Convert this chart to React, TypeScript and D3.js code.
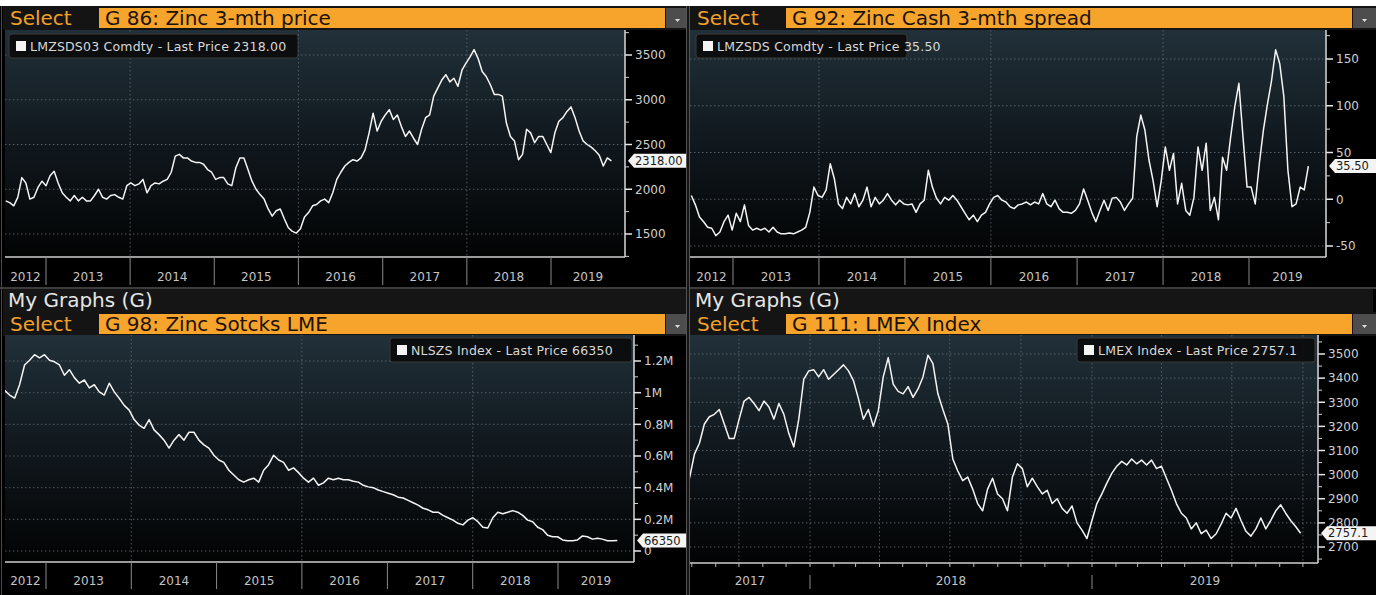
import React from 'react';
import * as d3 from 'd3';

const W = 1376;
const H = 595;
const FONT = '"DejaVu Sans", Verdana, sans-serif';

// G 86: Zinc 3-mth price (USD/t), Jul 2012 - Sep 2019
const zincPrice = [
  1870, 1850, 1815, 1910, 2130, 2070, 1890, 1910, 2020, 2090,
  2040, 2150, 2200, 2070, 1960, 1910, 1870, 1930, 1870, 1910,
  1870, 1870, 1930, 2000, 1910, 1890, 1930, 1940, 1910, 1890,
  2040, 2070, 2040, 2060, 2110, 1960, 2040, 2070, 2060, 2090,
  2110, 2190, 2370, 2390, 2350, 2350, 2315, 2300, 2300, 2280,
  2220, 2190, 2110, 2130, 2130, 2060, 2040, 2240, 2350, 2350,
  2220, 2090, 2000, 1940, 1890, 1780, 1700, 1760, 1780, 1670,
  1570, 1530, 1510, 1560, 1690, 1740, 1815, 1830, 1870, 1890,
  1850, 1960, 2110, 2190, 2260, 2300, 2330, 2315, 2350, 2440,
  2630, 2850, 2650, 2760, 2830, 2890, 2780, 2830, 2700, 2590,
  2650, 2570, 2500, 2670, 2800, 2830, 3040, 3130, 3220, 3280,
  3200, 3240, 3150, 3330, 3410, 3480, 3560, 3460, 3315, 3260,
  3170, 3060, 3060, 3040, 2740, 2590, 2540, 2330, 2390, 2670,
  2630, 2520, 2590, 2590, 2500, 2410, 2630, 2760, 2800, 2870,
  2920, 2800, 2650, 2540, 2500, 2470, 2430, 2380, 2260, 2350,
  2318.0,
];

// G 92: Zinc cash / 3-mth spread (USD/t)
const zincSpread = [
  4, -6, -19, -24, -30, -31, -39, -35, -24, -17,
  -33, -15, -24, -6, -28, -33, -31, -33, -31, -35,
  -30, -35, -37, -37, -36, -37, -35, -33, -30, -14,
  13, 4, 2, 10, 38, 22, -5, -10, 2, -5,
  6, -8, -1, 13, -8, 2, -5, -1, 6, -1,
  -6, -1, -5, -6, -5, -14, -5, -1, 31, 13,
  1, -5, 2, -1, 4, -1, -8, -15, -22, -17,
  -24, -17, -14, -5, 2, 4, -1, -3, -8, -10,
  -6, -5, -3, -6, -3, -5, 6, -5, -8, -1,
  -10, -14, -14, -15, -12, -5, 11, -1, -14, -24,
  -12, -1, -12, 1, 2, -3, -12, -5, 1, 67,
  90, 74, 42, 20, -8, 20, 56, 31, 49, -5,
  17, -12, -17, 2, 56, 31, 60, -12, 2, -22,
  45, 31, 67, 99, 124, 67, 13, 13, -5, 38,
  74, 102, 127, 160, 145, 110, 31, -8, -5, 13,
  10, 35.5,
];

// G 98: Zinc stocks LME (thousand tonnes)
const zincStocks = [
  1015, 985, 965, 1050, 1175, 1205, 1240, 1220, 1240, 1205,
  1195, 1175, 1110, 1145, 1095, 1060, 1080, 1030, 1050, 1005,
  985, 1060, 1005, 965, 920, 890, 830, 795, 775, 830,
  765, 735, 700, 650, 700, 735, 700, 750, 750, 700,
  670, 650, 605, 575, 560, 510, 480, 450, 435, 450,
  460, 435, 510, 545, 605, 575, 560, 510, 525, 495,
  460, 435, 460, 415, 430, 460, 450, 460, 450, 450,
  440, 435, 415, 405, 400, 385, 375, 365, 355, 340,
  335, 320, 305, 290, 270, 260, 245, 245, 225, 210,
  195, 175, 165, 195, 210, 185, 150, 145, 210, 245,
  235, 245, 255, 245, 225, 195, 185, 150, 135, 100,
  90, 90, 70, 65, 65, 70, 95, 90, 75, 80,
  75, 65, 65, 66.35,
];

// G 111: LMEX Index
const lmexIndex = [
  2985, 3085, 3130, 3210, 3240, 3250, 3270, 3210, 3150, 3150,
  3230, 3305, 3320, 3295, 3265, 3305, 3280, 3230, 3295, 3250,
  3170, 3115, 3230, 3395, 3430, 3435, 3405, 3435, 3395, 3415,
  3435, 3455, 3430, 3390, 3315, 3230, 3270, 3200, 3265, 3405,
  3485, 3375, 3345, 3335, 3365, 3320, 3355, 3405, 3495, 3460,
  3335, 3270, 3210, 3065, 3015, 2975, 2990, 2940, 2880, 2850,
  2940, 2985, 2920, 2900, 2850, 2990, 3045, 3025, 2950, 2985,
  2950, 2920, 2935, 2880, 2900, 2860, 2840, 2870, 2800, 2770,
  2735, 2810, 2880, 2920, 2965, 3005, 3035, 3055, 3040, 3065,
  3045, 3060, 3040, 3060, 3025, 3035, 2985, 2935, 2880, 2840,
  2820, 2775, 2800, 2755, 2770, 2735, 2755, 2795, 2840, 2820,
  2860, 2810, 2765, 2745, 2775, 2820, 2775, 2810, 2850, 2875,
  2840, 2810, 2785, 2757.1,
];

const longYears = [2012, 2013, 2014, 2015, 2016, 2017, 2018, 2019];
const shortYears = [2017, 2018, 2019];

const priceTicks = [1500, 2000, 2500, 3000, 3500];
const spreadTicks = [-50, 0, 50, 100, 150];
const stockTicks = [0, 200, 400, 600, 800, 1000, 1200];
const lmexTicks = [2700, 2800, 2900, 3000, 3100, 3200, 3300, 3400, 3500];

const d = (s: string) => new Date(s + 'T00:00:00');

type PanelDef = {
  id: string;
  title: string;
  ticker: string;
  myGraphs: boolean;
  values: number[];
  start: Date;
  end: Date;
  tagText: string;
  yTicks: number[];
  yMinorStep: number;
  yFmt: (v: number) => string;
  yDom: [number, number];
  yRange: [number, number];
  xDom: [Date, Date];
  xRange: [number, number];
  years: number[];
  monthly: boolean;
  // layout
  colX: number;
  headY: number;
  plot: { x0: number; x1: number; y0: number; y1: number };
  zoneBottom: number;
  yearBase: number;
  tagX1: number;
  legend: { x: number; y: number; w: number };
};

const panels: PanelDef[] = [
  {
    id: 'p86', title: 'G 86: Zinc 3-mth price', ticker: 'LMZSDS03 Comdty', myGraphs: false,
    values: zincPrice, start: d('2012-07-10'), end: d('2019-09-20'), tagText: '2318.00',
    yTicks: priceTicks, yMinorStep: 250, yFmt: (v) => String(v),
    yDom: [1500, 3500], yRange: [234, 55],
    xDom: [d('2013-01-01'), d('2019-01-01')], xRange: [46, 551],
    years: longYears, monthly: false,
    colX: 3, headY: 6, plot: { x0: 5, x1: 625, y0: 30, y1: 257 }, zoneBottom: 287, yearBase: 281,
    tagX1: 686, legend: { x: 9, y: 34, w: 289 },
  },
  {
    id: 'p92', title: 'G 92: Zinc Cash 3-mth spread', ticker: 'LMZSDS Comdty', myGraphs: false,
    values: zincSpread, start: d('2012-07-08'), end: d('2019-09-10'), tagText: '35.50',
    yTicks: spreadTicks, yMinorStep: 25, yFmt: (v) => String(v),
    yDom: [-50, 150], yRange: [246, 59],
    xDom: [d('2013-01-01'), d('2019-01-01')], xRange: [733, 1249],
    years: longYears, monthly: false,
    colX: 690, headY: 6, plot: { x0: 690, x1: 1326, y0: 30, y1: 257 }, zoneBottom: 287, yearBase: 281,
    tagX1: 1380, legend: { x: 696, y: 34, w: 211 },
  },
  {
    id: 'p98', title: 'G 98: Zinc Sotcks LME', ticker: 'NLSZS Index', myGraphs: true,
    values: zincStocks, start: d('2012-07-08'), end: d('2019-09-12'), tagText: '66350',
    yTicks: stockTicks, yMinorStep: 100, yFmt: (v) => (v === 0 ? '0' : `${v / 1000}M`),
    yDom: [0, 1200], yRange: [551, 361],
    xDom: [d('2013-01-01'), d('2019-01-01')], xRange: [46, 558],
    years: longYears, monthly: false,
    colX: 3, headY: 289, plot: { x0: 5, x1: 634, y0: 335, y1: 562 }, zoneBottom: 591, yearBase: 585,
    tagX1: 686, legend: { x: 390, y: 338, w: 242 },
  },
  {
    id: 'p111', title: 'G 111: LMEX Index', ticker: 'LMEX Index', myGraphs: true,
    values: lmexIndex, start: d('2017-07-29'), end: d('2019-09-28'), tagText: '2757.1',
    yTicks: lmexTicks, yMinorStep: 50, yFmt: (v) => String(v),
    yDom: [2700, 3500], yRange: [547, 354],
    xDom: [d('2018-01-01'), d('2019-01-01')], xRange: [810, 1092],
    years: shortYears, monthly: true,
    colX: 690, headY: 289, plot: { x0: 690, x1: 1318, y0: 335, y1: 563 }, zoneBottom: 591, yearBase: 585,
    tagX1: 1380, legend: { x: 1077, y: 338, w: 238 },
  },
];

function Header({ p }: { p: PanelDef }) {
  const x0 = p.colX;
  let y = p.headY;
  const parts: React.ReactNode[] = [];
  if (p.myGraphs) {
    parts.push(
      <g key="mg">
        <rect x={x0} y={y} width={683} height={23} fill="#151515" />
        <text x={x0 + 5} y={y + 18} fontSize={20} fill="#e6e6e6">My Graphs (G)</text>
      </g>
    );
    y += 23;
  }
  parts.push(
    <g key="sel">
      <rect x={x0} y={y} width={686} height={24} fill="#141414" />
      <text x={x0 + 7} y={y + 19} fontSize={20} fill="#f2a02a">Select</text>
      <rect x={x0 + 96} y={y + 2} width={566} height={20} fill="#f7a42c" />
      <text x={x0 + 102} y={y + 19} fontSize={20} fill="#1c1306">{p.title}</text>
      <rect x={x0 + 663} y={y + 2} width={23} height={20} fill="#4d4d4d" />
      <path d={`M${x0 + 672},${y + 13} l5,0 l-2.5,3 z`} fill="#e0e0e0" />
    </g>
  );
  return <g>{parts}</g>;
}

function Panel({ p }: { p: PanelDef }) {
  const { x0, x1, y0, y1 } = p.plot;
  const x = d3.scaleTime().domain(p.xDom).range(p.xRange);
  const y = d3.scaleLinear().domain(p.yDom).range(p.yRange);
  const n = p.values.length;
  const t0 = p.start.getTime();
  const t1 = p.end.getTime();
  const pts: [Date, number][] = p.values.map((v, i) => [new Date(t0 + ((t1 - t0) * i) / (n - 1)), v]);
  const line = d3.line<[Date, number]>().x((q) => x(q[0])).y((q) => y(q[1]));

  const yMin = y.invert(y1);
  const yMax = y.invert(y0);
  const minor = d3.range(Math.ceil(yMin / p.yMinorStep) * p.yMinorStep, yMax, p.yMinorStep)
    .filter((v) => !p.yTicks.includes(v));

  const dStart = x.invert(x0);
  const dEnd = x.invert(x1);
  const yearStarts = d3.timeYear.range(d3.timeYear.ceil(dStart), dEnd);
  const gridDates = p.monthly
    ? d3.timeMonth.every(3)!.range(dStart, dEnd)
    : yearStarts.filter((t) => t.getFullYear() % 2 === 0);
  const months = p.monthly ? d3.timeMonth.range(d3.timeMonth.ceil(dStart), dEnd) : [];

  const lastY = y(p.values[n - 1]);
  const tx = x1 + 3;
  const lg = p.legend;

  return (
    <g>
      <Header p={p} />
      <clipPath id={`clip-${p.id}`}>
        <rect x={x0} y={y0} width={x1 - x0} height={y1 - y0} />
      </clipPath>
      <rect x={x0} y={y0} width={x1 - x0} height={y1 - y0} fill="url(#plotBg)" />
      <g stroke="#68727c" strokeOpacity={0.75} strokeDasharray="1.5,2.5" strokeWidth={1}>
        {p.yTicks.map((v) => (
          <line key={`h${v}`} x1={x0} x2={x1} y1={y(v)} y2={y(v)} />
        ))}
        {gridDates.map((t) => (
          <line key={`v${t.getTime()}`} x1={x(t)} x2={x(t)} y1={y0} y2={y1} />
        ))}
      </g>
      <path
        d={line(pts) || ''}
        fill="none"
        stroke="#f4f4f4"
        strokeWidth={1.5}
        strokeLinejoin="round"
        clipPath={`url(#clip-${p.id})`}
      />
      {/* x axis zone */}
      <rect x={x0} y={y1} width={x1 - x0 + (p.tagX1 - x1)} height={p.zoneBottom - y1} fill="#000" />
      <line x1={x0} x2={x1} y1={y1} y2={y1} stroke="#cfcfcf" strokeWidth={1.5} />
      {p.monthly
        ? months.map((t) => (
            <line key={`m${t.getTime()}`} x1={x(t)} x2={x(t)} y1={y1} y2={y1 + 4} stroke="#bdbdbd" />
          ))
        : null}
      {yearStarts.map((t) => (
        <line
          key={`s${t.getTime()}`}
          x1={x(t)}
          x2={x(t)}
          y1={p.monthly ? y1 + 12 : y1}
          y2={p.zoneBottom - 2}
          stroke="#8a8a8a"
          strokeWidth={1}
        />
      ))}
      {p.years.map((yr) => {
        const a = Math.max(x(new Date(yr, 0, 1)), x0);
        const b = Math.min(x(new Date(yr + 1, 0, 1)), x1);
        return (
          <text key={`y${yr}`} x={(a + b) / 2} y={p.yearBase} fontSize={12} fill="#c4c4c4" textAnchor="middle">
            {yr}
          </text>
        );
      })}
      {/* right axis */}
      <line x1={x1} x2={x1} y1={y0} y2={y1} stroke="#d8d8d8" strokeWidth={1.5} />
      {minor.map((v) => (
        <line key={`n${v}`} x1={x1} x2={x1 + 4} y1={y(v)} y2={y(v)} stroke="#cfcfcf" strokeWidth={1} />
      ))}
      {p.yTicks.map((v) => (
        <g key={`t${v}`}>
          <line x1={x1} x2={x1 + 7} y1={y(v)} y2={y(v)} stroke="#e6e6e6" strokeWidth={1.5} />
          <text x={x1 + 10} y={y(v)} dy="0.36em" fontSize={12} fill="#d0d0d0">
            {p.yFmt(v)}
          </text>
        </g>
      ))}
      {/* last price tag */}
      <path
        d={`M${tx},${lastY} L${tx + 6},${lastY - 7} L${p.tagX1},${lastY - 7} L${p.tagX1},${lastY + 7} L${tx + 6},${lastY + 7} Z`}
        fill="#f4f4f4"
      />
      <text x={tx + 7} y={lastY} dy="0.35em" fontSize={11.5} fill="#1a1a1a">
        {p.tagText}
      </text>
      {/* legend */}
      <rect x={lg.x} y={lg.y} width={lg.w} height={24} rx={3} fill="#0b0b0b" fillOpacity={0.92} stroke="#3a3a3a" />
      <rect x={lg.x + 7} y={lg.y + 7} width={10} height={10} fill="#f4f4f4" />
      <text x={lg.x + 21} y={lg.y + 16.5} fontSize={12.5} letterSpacing={0.2} fill="#d8d8d8">
        {`${p.ticker} - Last Price ${p.tagText}`}
      </text>
    </g>
  );
}

export default function App() {
  return (
    <svg
      width={W}
      height={H}
      viewBox={`0 0 ${W} ${H}`}
      style={{ position: 'absolute', left: 0, top: 0, display: 'block', background: '#000' }}
      fontFamily={FONT}
    >
      <defs>
        <linearGradient id="plotBg" x1="0" y1="0" x2="0" y2="1">
          <stop offset="0" stopColor="#213039" />
          <stop offset="0.45" stopColor="#121a20" />
          <stop offset="1" stopColor="#020303" />
        </linearGradient>
      </defs>
      <rect x={0} y={0} width={W} height={H} fill="#000" />
      {panels.map((p) => (
        <Panel key={p.id} p={p} />
      ))}
      <rect x={0} y={0} width={W} height={6} fill="#ffffff" />
      <rect x={0} y={287} width={W} height={2} fill="#3c3c3c" />
      <rect x={686} y={6} width={4} height={H - 6} fill="#141414" />
      <line x1={686.5} x2={686.5} y1={6} y2={H} stroke="#555" />
      <line x1={689.5} x2={689.5} y1={6} y2={H} stroke="#555" />
      <line x1={1.5} x2={1.5} y1={6} y2={H} stroke="#4a4a4a" />
    </svg>
  );
}
